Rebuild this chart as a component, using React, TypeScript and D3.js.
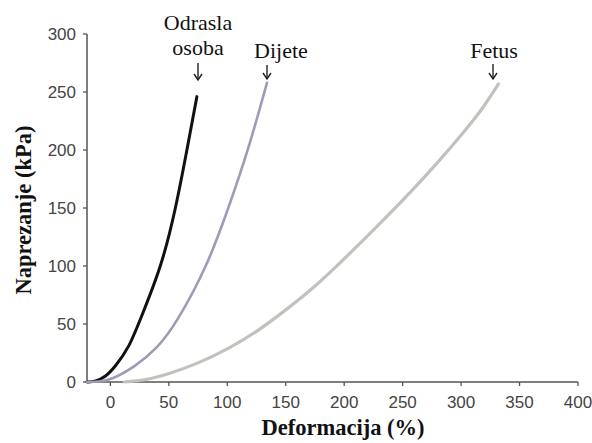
import React from "react";
import * as d3 from "d3";

const xTicks = [0, 50, 100, 150, 200, 250, 300, 350, 400];
const yTicks = [0, 50, 100, 150, 200, 250, 300];

const adultX = [-20, -13, -4, 4, 16, 24, 44, 56, 65.5, 74];
const adultY = [0, 0.3, 4.5, 13, 30, 50, 100, 150, 200, 246];

const childX = [-20, -10, 0, 21, 41, 56, 83, 101, 118, 134];
const childY = [0, 0.3, 1.5, 13, 30, 50, 100, 150, 200, 258];

const fetusX = [12, 30, 50, 75, 100, 125, 150, 175, 202, 230, 259, 280, 302, 318, 332];
const fetusY = [0, 1.5, 7, 16, 28, 43, 62, 82, 108, 136, 166, 189, 215, 235, 257];

const labels = ["Odrasla osoba", "Dijete", "Fetus"];

const W = 592, H = 443;
const x = d3.scaleLinear().domain([-20, 400]).range([87, 578]);
const y = d3.scaleLinear().domain([0, 300]).range([382, 34]);

const line = d3
  .line<[number, number]>()
  .x((d) => x(d[0]))
  .y((d) => y(d[1]))
  .curve(d3.curveBasis);

const zip = (a: number[], b: number[]) => a.map((v, i) => [v, b[i]] as [number, number]);

function Arrow({ cx, y0, y1 }: { cx: number; y0: number; y1: number }) {
  return (
    <g stroke="#222" strokeWidth={1.4} fill="none">
      <line x1={cx} y1={y0} x2={cx} y2={y1} />
      <path d={`M${cx - 4},${y1 - 6} L${cx},${y1} L${cx + 4},${y1 - 6}`} />
    </g>
  );
}

const serif = "'Liberation Serif', 'Times New Roman', serif";
const sans = "'Liberation Sans', Arial, sans-serif";

export default function App() {
  const axisColor = "#555";
  const series = [
    { d: zip(adultX, adultY), color: "#111111", w: 3 },
    { d: zip(childX, childY), color: "#9c9cba", w: 2.6 },
    { d: zip(fetusX, fetusY), color: "#c2c2bc", w: 3.2 },
  ];
  return (
    <svg width={W} height={H} style={{ position: "absolute", left: 0, top: 0, background: "#fff" }}>
      <rect width={W} height={H} fill="#fff" />
      <line x1={x(-20)} y1={y(0)} x2={x(400)} y2={y(0)} stroke={axisColor} strokeWidth={1.5} />
      <line x1={x(-20)} y1={y(0)} x2={x(-20)} y2={y(300)} stroke={axisColor} strokeWidth={1.5} />
      {xTicks.map((t) => (
        <g key={"x" + t}>
          <line x1={x(t)} x2={x(t)} y1={y(0)} y2={y(0) + 4} stroke={axisColor} strokeWidth={1.3} />
          <text x={x(t)} y={408} textAnchor="middle" fontFamily={sans} fontSize={17} fill="#444">
            {t}
          </text>
        </g>
      ))}
      {yTicks.map((t) => (
        <g key={"y" + t}>
          <line x1={x(-20) - 4} x2={x(-20)} y1={y(t)} y2={y(t)} stroke={axisColor} strokeWidth={1.3} />
          <text x={76} y={y(t) + 6} textAnchor="end" fontFamily={sans} fontSize={17} fill="#444">
            {t}
          </text>
        </g>
      ))}
      {series.map((s, i) => (
        <path key={i} d={line(s.d) || ""} fill="none" stroke={s.color} strokeWidth={s.w} strokeLinecap="round" />
      ))}
      <text x={198} y={30} textAnchor="middle" fontFamily={serif} fontSize={22} fill="#111">
        {labels[0].split(" ")[0]}
      </text>
      <text x={198} y={55} textAnchor="middle" fontFamily={serif} fontSize={22} fill="#111">
        {labels[0].split(" ")[1]}
      </text>
      <Arrow cx={198} y0={63} y1={80} />
      <text x={281} y={58} textAnchor="middle" fontFamily={serif} fontSize={22} fill="#111">
        {labels[1]}
      </text>
      <Arrow cx={267} y0={65} y1={79} />
      <text x={494} y={58} textAnchor="middle" fontFamily={serif} fontSize={22} fill="#111">
        {labels[2]}
      </text>
      <Arrow cx={493} y0={64} y1={79} />
      <text x={343} y={435} textAnchor="middle" fontFamily={serif} fontWeight="bold" fontSize={22.5} fill="#111">
        Deformacija (%)
      </text>
      <text transform={`translate(31,210) rotate(-90)`} textAnchor="middle" fontFamily={serif} fontWeight="bold" fontSize={22.5} fill="#111">
        Naprezanje (kPa)
      </text>
    </svg>
  );
}
